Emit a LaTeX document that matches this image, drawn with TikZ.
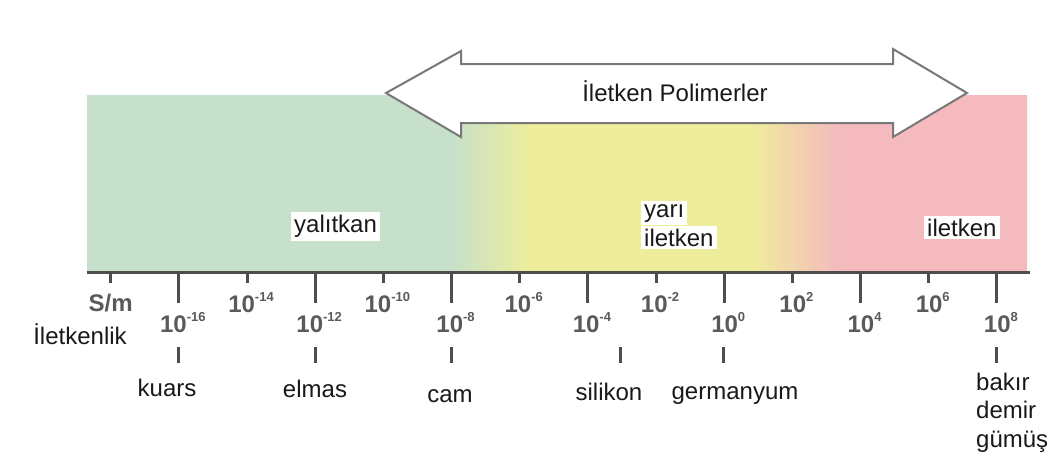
\documentclass[tikz,border=0pt]{standalone}
\usepackage{fontspec}
\setmainfont{Liberation Sans}
\definecolor{bandgreen}{RGB}{198,224,203}
\definecolor{bandyellow}{RGB}{238,237,155}
\definecolor{bandpink}{RGB}{244,186,190}
\definecolor{axisgray}{RGB}{77,77,77}
\definecolor{numgray}{RGB}{90,90,90}
\definecolor{txtblack}{RGB}{25,25,25}
\definecolor{arrowgray}{RGB}{120,120,120}
\pgfdeclarehorizontalshading{bandshade}{100bp}{%
  color(0bp)=(bandgreen); color(44.3bp)=(bandgreen);
  color(48.6bp)=(bandyellow); color(60.3bp)=(bandyellow);
  color(65bp)=(bandpink); color(100bp)=(bandpink)}
\begin{document}
\begin{tikzpicture}[x=1pt,y=-1pt,
  num/.style={text=numgray, font=\fontsize{24}{28}\selectfont\bfseries, inner sep=0pt, anchor=base},
  lbl/.style={text=txtblack, font=\fontsize{24}{28}\selectfont, inner sep=0pt},
  bandlbl/.style={lbl, fill=white, inner xsep=3pt, inner ysep=3pt, anchor=base west},
  axistick/.style={draw=axisgray, line width=3pt},
  pointer/.style={draw=axisgray, line width=3pt},
]
\useasboundingbox (0,0) rectangle (1055,464);
\fill[white] (0,0) rectangle (1055,464);
% coloured band
\shade[shading=bandshade] (87,95) rectangle (1027,270);
% axis
\coordinate (axL) at (87,272);
\coordinate (axR) at (1030,272);
\draw[axisgray, line width=3pt] (axL) -- (axR);
% ticks and numbers
\foreach \i in {0,...,13}{
  \pgfmathsetmacro{\tx}{110.7+68.17*\i}
  \pgfmathtruncatemacro{\ex}{2*\i-18}
  \pgfmathtruncatemacro{\odd}{mod(\i,2)}
  \coordinate (t\i) at (\tx,272);
  \ifnum\odd=1
    \coordinate (te\i) at (\tx,303);
    \draw[axistick] (t\i) -- (te\i);
    \node[num] (n\i) at (\tx+4,332.5) {10\raisebox{11pt}{\fontsize{13}{13}\selectfont\ex}};
  \else
    \coordinate (te\i) at (\tx,283);
    \draw[axistick] (t\i) -- (te\i);
    \ifnum\i=0
      \node[num] (n\i) at (\tx,311.7) {S/m};
    \else
      \node[num] (n\i) at (\tx+4,312) {10\raisebox{11pt}{\fontsize{13}{13}\selectfont\ex}};
    \fi
  \fi
}
% axis title
\node[lbl, anchor=base] (ilk) at (80,344) {İletkenlik};
% materials
\node[lbl, anchor=base] (kuars) at (167,396.7) {kuars};
\node[lbl, anchor=base] (elmas) at (315,397) {elmas};
\node[lbl, anchor=base] (cam) at (450,402.7) {cam};
\node[lbl, anchor=base] (silikon) at (609,400.7) {silikon};
\node[lbl, anchor=base] (germ) at (735,399) {germanyum};
\node[lbl, anchor=base west] (bakir) at (976,390) {bakır};
\node[lbl, anchor=base west] (demir) at (976,418.5) {demir};
\node[lbl, anchor=base west] (gumus) at (976,447) {gümüş};
% pointers from values to materials
\coordinate (p1a) at (178,347); \coordinate (p1b) at (178,363);
\coordinate (p2a) at (315,347); \coordinate (p2b) at (315,363);
\coordinate (p3a) at (451,347); \coordinate (p3b) at (451,363);
\coordinate (p4a) at (620,347); \coordinate (p4b) at (620,363);
\coordinate (p5a) at (723,347); \coordinate (p5b) at (723,363);
\coordinate (p6a) at (996.5,347); \coordinate (p6b) at (996.5,363);
\foreach \k in {1,...,6}{\draw[pointer] (p\k a) -- (p\k b);}
% band labels
\node[bandlbl] (yal) at (291,232.7) {yalıtkan};
\node[bandlbl] (yari) at (641,217) {yarı};
\node[bandlbl] (yil) at (641,246) {iletken};
\node[bandlbl] (ilet) at (924,236) {iletken};
% double arrow
\draw[arrowgray, line width=2pt, fill=white, line join=miter]
  (386,93) -- (461,51) -- (461,64) -- (893,64) -- (893,49) -- (967,93)
  -- (893,137) -- (893,123) -- (461,123) -- (461,137) -- cycle;
\node[lbl, anchor=base] (poly) at (675,101) {İletken Polimerler};
\end{tikzpicture}
\end{document}
